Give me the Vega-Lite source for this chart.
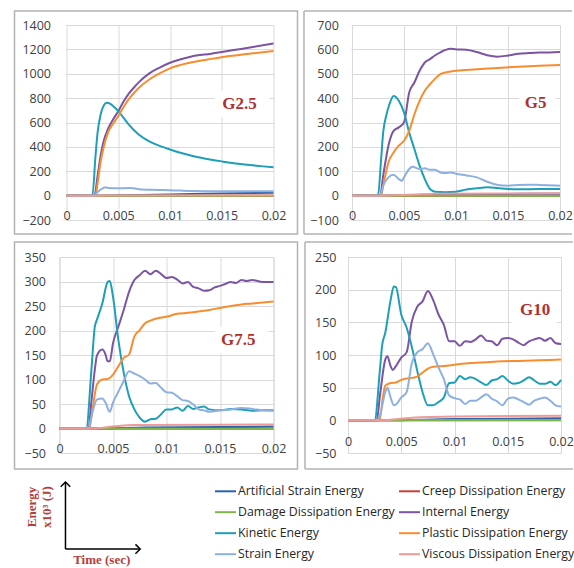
{
"$schema": "https://vega.github.io/schema/vega-lite/v6.json",
"background": "white",
"padding": {"left": 12.5, "top": 10, "right": 0, "bottom": 0},
"config": {
 "font": "Open Sans",
 "view": {"stroke": "#d9d9d9"},
 "axis": {"labelFont": "Open Sans", "labelFontSize": 12.5, "labelColor": "#404040", "gridColor": "#d9d9d9", "gridWidth": 1, "domain": false, "ticks": false, "tickSize": 0, "labelFlush": false, "labelOverlap": false, "tickCount": 12, "title": null}
},
"datasets": {
 "g25": [
  {"s": "Artificial Strain Energy", "t": [0, 0.003, 0.006, 0.01, 0.015, 0.02], "e": [0, 0, 4, 10, 18, 24]},
  {"s": "Creep Dissipation Energy", "t": [0, 0.02], "e": [0, 0]},
  {"s": "Damage Dissipation Energy", "t": [0, 0.02], "e": [0, 0]},
  {"s": "Internal Energy", "t": [0, 0.0027, 0.003, 0.0033, 0.0036, 0.004, 0.0045, 0.005, 0.0055, 0.006, 0.0065, 0.007, 0.008, 0.009, 0.01, 0.012, 0.014, 0.015, 0.016, 0.018, 0.02], "e": [0, 0, 160, 330, 450, 545, 625, 693, 770, 835, 885, 931, 1003, 1050, 1090, 1140, 1165, 1178, 1192, 1219, 1249]},
  {"s": "Kinetic Energy", "t": [0, 0.0025, 0.0028, 0.003, 0.0033, 0.0036, 0.0039, 0.0042, 0.0045, 0.005, 0.0055, 0.006, 0.007, 0.008, 0.009, 0.01, 0.011, 0.012, 0.013, 0.014, 0.015, 0.016, 0.017, 0.018, 0.019, 0.02], "e": [0, 0, 323, 515, 666, 740, 762, 755, 735, 693, 640, 585, 500, 446, 408, 378, 352, 330, 311, 295, 281, 268, 258, 249, 240, 232]},
  {"s": "Plastic Dissipation Energy", "t": [0, 0.0028, 0.003, 0.0033, 0.0036, 0.004, 0.0045, 0.005, 0.0055, 0.006, 0.0065, 0.007, 0.008, 0.009, 0.01, 0.012, 0.014, 0.016, 0.018, 0.02], "e": [0, 0, 100, 280, 400, 515, 590, 652, 725, 789, 840, 885, 953, 1003, 1044, 1092, 1122, 1148, 1168, 1186]},
  {"s": "Strain Energy", "t": [0, 0.0027, 0.003, 0.0035, 0.0038, 0.004, 0.005, 0.006, 0.0065, 0.007, 0.008, 0.01, 0.012, 0.015, 0.018, 0.02], "e": [0, 0, 30, 60, 68, 63, 60, 62, 60, 52, 48, 45, 38, 35, 35, 36]},
  {"s": "Viscous Dissipation Energy", "t": [0, 0.003, 0.005, 0.02], "e": [0, 0, 2, 3]}
 ],
 "g5": [
  {"s": "Artificial Strain Energy", "t": [0, 0.003, 0.006, 0.01, 0.02], "e": [0, 0, 3, 5, 8]},
  {"s": "Creep Dissipation Energy", "t": [0, 0.02], "e": [0, 0]},
  {"s": "Damage Dissipation Energy", "t": [0, 0.005, 0.02], "e": [0, -1, -2]},
  {"s": "Internal Energy", "t": [0, 0.0027, 0.003, 0.0035, 0.004, 0.0045, 0.005, 0.0055, 0.006, 0.0065, 0.007, 0.0075, 0.008, 0.0085, 0.009, 0.0095, 0.01, 0.011, 0.012, 0.013, 0.014, 0.015, 0.016, 0.017, 0.018, 0.019, 0.02], "e": [0, 0, 82, 205, 266, 280, 300, 423, 464, 512, 546, 560, 576, 588, 598, 603, 600, 598, 589, 576, 570, 575, 582, 585, 587, 587, 589]},
  {"s": "Kinetic Energy", "t": [0, 0.0025, 0.0028, 0.003, 0.0033, 0.0036, 0.004, 0.0045, 0.005, 0.0055, 0.006, 0.0065, 0.007, 0.0075, 0.008, 0.009, 0.01, 0.011, 0.012, 0.013, 0.014, 0.015, 0.016, 0.018, 0.02], "e": [0, 0, 150, 260, 330, 375, 409, 389, 341, 259, 191, 123, 68, 27, 16, 14, 16, 25, 30, 34, 31, 27, 26, 27, 27]},
  {"s": "Plastic Dissipation Energy", "t": [0, 0.0028, 0.003, 0.0035, 0.004, 0.0045, 0.005, 0.0055, 0.006, 0.0065, 0.007, 0.0075, 0.008, 0.0085, 0.009, 0.01, 0.012, 0.014, 0.016, 0.018, 0.02], "e": [0, 0, 41, 136, 177, 205, 225, 266, 334, 389, 430, 457, 480, 498, 505, 512, 518, 524, 529, 533, 536]},
  {"s": "Strain Energy", "t": [0, 0.0027, 0.003, 0.0035, 0.004, 0.0045, 0.0048, 0.005, 0.0055, 0.0058, 0.0065, 0.007, 0.0075, 0.008, 0.0085, 0.009, 0.0095, 0.01, 0.011, 0.012, 0.013, 0.014, 0.015, 0.016, 0.017, 0.018, 0.02], "e": [0, 0, 41, 75, 86, 68, 61, 75, 109, 118, 109, 112, 106, 106, 95, 93, 95, 90, 83, 75, 57, 44, 41, 44, 45, 44, 41]},
  {"s": "Viscous Dissipation Energy", "t": [0, 0.003, 0.006, 0.008, 0.02], "e": [0, 0, 5, 8, 10]}
 ],
 "g75": [
  {"s": "Artificial Strain Energy", "t": [0, 0.003, 0.008, 0.02], "e": [0, 0, 2, 4]},
  {"s": "Creep Dissipation Energy", "t": [0, 0.02], "e": [0, 0]},
  {"s": "Damage Dissipation Energy", "t": [0, 0.02], "e": [0, -1]},
  {"s": "Internal Energy", "t": [0, 0.0027, 0.003, 0.0033, 0.0035, 0.004, 0.0043, 0.0045, 0.0047, 0.005, 0.0055, 0.006, 0.0065, 0.007, 0.0075, 0.008, 0.0085, 0.009, 0.0095, 0.01, 0.0105, 0.011, 0.0115, 0.012, 0.0125, 0.013, 0.0135, 0.014, 0.0145, 0.015, 0.0155, 0.016, 0.0165, 0.017, 0.0175, 0.018, 0.019, 0.02], "e": [0, 0, 59, 120, 149, 161, 151, 137, 137, 174, 208, 242, 279, 303, 313, 322, 315, 322, 315, 307, 309, 304, 296, 299, 289, 286, 281, 282, 288, 291, 295, 299, 297, 303, 301, 303, 299, 299]},
  {"s": "Kinetic Energy", "t": [0, 0.0025, 0.003, 0.0033, 0.0035, 0.004, 0.0045, 0.0047, 0.005, 0.0055, 0.006, 0.0065, 0.007, 0.0075, 0.008, 0.0085, 0.009, 0.0095, 0.01, 0.0105, 0.011, 0.0115, 0.012, 0.0125, 0.013, 0.0135, 0.014, 0.015, 0.016, 0.017, 0.018, 0.019, 0.02], "e": [0, 0, 125, 208, 222, 255, 299, 301, 269, 181, 114, 66, 39, 22, 14, 19, 20, 29, 39, 39, 43, 36, 46, 40, 43, 45, 39, 37, 40, 39, 36, 37, 37]},
  {"s": "Plastic Dissipation Energy", "t": [0, 0.0028, 0.003, 0.0035, 0.004, 0.0045, 0.005, 0.0055, 0.006, 0.0065, 0.007, 0.0075, 0.008, 0.0085, 0.009, 0.01, 0.011, 0.012, 0.013, 0.014, 0.015, 0.016, 0.017, 0.018, 0.019, 0.02], "e": [0, 0, 26, 90, 100, 101, 110, 127, 144, 151, 188, 201, 215, 220, 224, 228, 234, 236, 239, 242, 246, 250, 253, 255, 257, 259]},
  {"s": "Strain Energy", "t": [0, 0.0027, 0.003, 0.0035, 0.004, 0.0043, 0.0047, 0.005, 0.0055, 0.006, 0.0065, 0.007, 0.0075, 0.008, 0.0085, 0.009, 0.0095, 0.01, 0.0105, 0.011, 0.0115, 0.012, 0.0125, 0.013, 0.0135, 0.014, 0.015, 0.016, 0.017, 0.018, 0.019, 0.02], "e": [0, 0, 26, 59, 61, 53, 34, 53, 75, 97, 117, 112, 107, 100, 92, 93, 83, 74, 73, 66, 58, 56, 49, 39, 37, 34, 37, 39, 42, 40, 37, 36]},
  {"s": "Viscous Dissipation Energy", "t": [0, 0.003, 0.005, 0.007, 0.02], "e": [0, 0, 4, 7, 8]}
 ],
 "g10": [
  {"s": "Artificial Strain Energy", "t": [0, 0.003, 0.01, 0.02], "e": [0, 0, 2, 3]},
  {"s": "Creep Dissipation Energy", "t": [0, 0.02], "e": [0, 0]},
  {"s": "Damage Dissipation Energy", "t": [0, 0.02], "e": [0, 0.5]},
  {"s": "Internal Energy", "t": [0, 0.0027, 0.003, 0.0035, 0.0037, 0.004, 0.0042, 0.0045, 0.005, 0.0055, 0.006, 0.0065, 0.007, 0.0075, 0.008, 0.0085, 0.009, 0.0095, 0.01, 0.0105, 0.011, 0.0115, 0.012, 0.0125, 0.013, 0.0135, 0.014, 0.0145, 0.015, 0.0155, 0.016, 0.0165, 0.017, 0.0175, 0.018, 0.0185, 0.019, 0.0195, 0.02], "e": [0, 0, 38, 93, 98, 83, 77, 83, 96, 104, 152, 174, 182, 198, 184, 162, 146, 121, 121, 114, 121, 120, 124, 130, 122, 121, 115, 125, 126, 124, 119, 115, 121, 124, 126, 122, 126, 118, 117]},
  {"s": "Kinetic Energy", "t": [0, 0.0025, 0.003, 0.0032, 0.0035, 0.004, 0.0043, 0.0045, 0.005, 0.0055, 0.006, 0.0065, 0.007, 0.0075, 0.008, 0.0085, 0.009, 0.0095, 0.01, 0.0105, 0.011, 0.0115, 0.012, 0.0125, 0.013, 0.0135, 0.014, 0.0145, 0.015, 0.0155, 0.016, 0.0165, 0.017, 0.0175, 0.018, 0.0185, 0.019, 0.0195, 0.02], "e": [0, 0, 78, 114, 134, 184, 205, 204, 162, 142, 112, 76, 43, 23, 23, 28, 35, 57, 58, 68, 63, 66, 63, 58, 54, 61, 63, 68, 61, 56, 57, 61, 66, 61, 56, 56, 59, 54, 62]},
  {"s": "Plastic Dissipation Energy", "t": [0, 0.0029, 0.003, 0.0033, 0.0035, 0.004, 0.0045, 0.005, 0.0055, 0.006, 0.0065, 0.007, 0.0075, 0.008, 0.009, 0.01, 0.011, 0.012, 0.013, 0.014, 0.016, 0.018, 0.02], "e": [0, 0, 3, 38, 53, 57, 58, 62, 64, 65, 67, 73, 79, 82, 83, 85, 87, 88, 89, 90, 91, 92, 93]},
  {"s": "Strain Energy", "t": [0, 0.0027, 0.003, 0.0035, 0.0037, 0.004, 0.0043, 0.0045, 0.005, 0.0055, 0.006, 0.0065, 0.007, 0.0075, 0.008, 0.0085, 0.009, 0.0095, 0.01, 0.0105, 0.011, 0.0115, 0.012, 0.0125, 0.013, 0.0135, 0.014, 0.0145, 0.015, 0.0155, 0.016, 0.0165, 0.017, 0.0175, 0.018, 0.0185, 0.019, 0.0195, 0.02], "e": [0, 0, 8, 43, 50, 35, 23, 24, 35, 43, 88, 104, 109, 118, 101, 81, 63, 38, 34, 32, 25, 30, 30, 35, 40, 33, 29, 23, 33, 35, 32, 28, 24, 30, 33, 35, 30, 23, 21]},
  {"s": "Viscous Dissipation Energy", "t": [0, 0.003, 0.006, 0.01, 0.02], "e": [0, 0, 4, 6, 7]}
 ]
},
"resolve": {"scale": {"color": "shared"}, "legend": {"color": "shared"}},
"columns": 2,
"align": "none",
"spacing": {"row": 5, "column": 3.5},
"concat": [
 {
  "width": 214, "height": 195,
  "view": {"stroke": null},
  "layer": [
   {"data": {"name": "g25"}, "transform": [{"flatten": ["t", "e"]}],
    "mark": {"type": "line", "strokeWidth": 2, "interpolate": "monotone"},
    "encoding": {
     "x": {"field": "t", "type": "quantitative", "scale": {"domain": [-0.00067633, 0.02], "nice": false, "zero": false}, "axis": {"values": [0, 0.005, 0.01, 0.015, 0.02], "tickCount": 12, "format": "~g", "labelPadding": -11, "labelOverlap": false, "title": null, "grid": true}},
     "y": {"field": "e", "type": "quantitative", "scale": {"domain": [-200, 1400], "nice": false, "zero": false}, "axis": {"values": [-200, 0, 200, 400, 600, 800, 1000, 1200, 1400], "tickCount": 12, "format": "d", "labelPadding": 9, "labelOverlap": false, "title": null, "grid": true}},
     "color": {"field": "s", "type": "nominal",
      "scale": {"domain": ["Artificial Strain Energy", "Creep Dissipation Energy", "Damage Dissipation Energy", "Internal Energy", "Kinetic Energy", "Plastic Dissipation Energy", "Strain Energy", "Viscous Dissipation Energy"], "range": ["#2B64AE", "#C8403A", "#7FB548", "#7B54A3", "#1E9FB8", "#F98C2E", "#8CB0E0", "#EE9A98"]},
      "legend": {"title": null, "orient": "none", "legendX": 154.5, "legendY": 454.7, "columns": 2, "direction": "horizontal", "symbolType": "stroke", "symbolSize": 441, "symbolStrokeWidth": 2, "labelFont": "Open Sans", "labelFontSize": 12.3, "labelColor": "#262626", "labelOffset": 1, "columnPadding": 0, "rowPadding": 3, "labelLimit": 300, "padding": 0}}
    }},
   {"data": {"values": [{}]}, "mark": {"type": "rect", "color": "white"},
    "encoding": {"x": {"datum": -0.00067633, "type": "quantitative"}, "x2": {"datum": -0.00005}, "y": {"datum": -105, "type": "quantitative"}, "y2": {"datum": 1410}}},
   {"data": {"values": [{}]}, "mark": {"type": "rect", "color": "white"},
    "encoding": {"x": {"datum": -0.00067633, "type": "quantitative"}, "x2": {"datum": -0.00005}, "y": {"datum": -206, "type": "quantitative"}, "y2": {"datum": -194}}},
   {"data": {"values": [{}]}, "mark": {"type": "rect", "filled": false, "color": "#b3b3b3", "strokeWidth": 1.5},
    "encoding": {"x": {"datum": -0.0050242, "type": "quantitative"}, "x2": {"datum": 0.0223188}, "y": {"datum": 1514.87, "type": "quantitative"}, "y2": {"datum": -314.87}}},
   {"data": {"values": [{}]}, "mark": {"type": "rect", "color": "white"},
    "encoding": {"x": {"datum": 0.0143, "type": "quantitative"}, "x2": {"datum": 0.01961}, "y": {"datum": 645, "type": "quantitative"}, "y2": {"datum": 858}}},
   {"data": {"values": [{}]}, "mark": {"type": "text", "text": "G2.5", "font": "Liberation Serif", "fontWeight": "bold", "fontSize": 17, "color": "#B0302E", "align": "center", "baseline": "middle"},
    "encoding": {"x": {"datum": 0.01672, "type": "quantitative"}, "y": {"datum": 752, "type": "quantitative"}}}
  ]
 },
 {
  "width": 213, "height": 195,
  "view": {"stroke": null},
  "layer": [
   {"data": {"name": "g5"}, "transform": [{"flatten": ["t", "e"]}],
    "mark": {"type": "line", "strokeWidth": 2, "interpolate": "monotone"},
    "encoding": {
     "x": {"field": "t", "type": "quantitative", "scale": {"domain": [-0.00048077, 0.02], "nice": false, "zero": false}, "axis": {"values": [0, 0.005, 0.01, 0.015, 0.02], "tickCount": 12, "format": "~g", "labelPadding": -10.5, "labelOverlap": false, "title": null, "grid": true}},
     "y": {"field": "e", "type": "quantitative", "scale": {"domain": [-100, 700], "nice": false, "zero": false}, "axis": {"values": [-100, 0, 100, 200, 300, 400, 500, 600, 700], "tickCount": 12, "format": "d", "labelPadding": 8.7, "labelOverlap": false, "title": null, "grid": true}},
     "color": {"field": "s", "type": "nominal",
      "scale": {"domain": ["Artificial Strain Energy", "Creep Dissipation Energy", "Damage Dissipation Energy", "Internal Energy", "Kinetic Energy", "Plastic Dissipation Energy", "Strain Energy", "Viscous Dissipation Energy"], "range": ["#2B64AE", "#C8403A", "#7FB548", "#7B54A3", "#1E9FB8", "#F98C2E", "#8CB0E0", "#EE9A98"]},
      "legend": {"title": null, "orient": "none", "legendX": 154.5, "legendY": 454.7, "columns": 2, "direction": "horizontal", "symbolType": "stroke", "symbolSize": 441, "symbolStrokeWidth": 2, "labelFont": "Open Sans", "labelFontSize": 12.3, "labelColor": "#262626", "labelOffset": 1, "columnPadding": 0, "rowPadding": 3, "labelLimit": 300, "padding": 0}}
    }},
   {"data": {"values": [{}]}, "mark": {"type": "rect", "color": "white"},
    "encoding": {"x": {"datum": -0.00048077, "type": "quantitative"}, "x2": {"datum": -0.000048}, "y": {"datum": -50, "type": "quantitative"}, "y2": {"datum": 705}}},
   {"data": {"values": [{}]}, "mark": {"type": "rect", "color": "white"},
    "encoding": {"x": {"datum": -0.00048077, "type": "quantitative"}, "x2": {"datum": -0.000048}, "y": {"datum": -103, "type": "quantitative"}, "y2": {"datum": -97}}},
   {"data": {"values": [{}]}, "mark": {"type": "rule", "color": "#b3b3b3", "strokeWidth": 1.5},
    "encoding": {"x": {"datum": -0.0046154, "type": "quantitative"}, "x2": {"datum": 0.0211538}, "y": {"datum": 757.44, "type": "quantitative"}}},
   {"data": {"values": [{}]}, "mark": {"type": "rule", "color": "#b3b3b3", "strokeWidth": 1.5},
    "encoding": {"x": {"datum": -0.0046154, "type": "quantitative"}, "x2": {"datum": 0.0211538}, "y": {"datum": -157.44, "type": "quantitative"}}},
   {"data": {"values": [{}]}, "mark": {"type": "rule", "color": "#b3b3b3", "strokeWidth": 1.5},
    "encoding": {"x": {"datum": -0.0046154, "type": "quantitative"}, "y": {"datum": 757.44, "type": "quantitative"}, "y2": {"datum": -157.44}}},
   {"data": {"values": [{}]}, "mark": {"type": "rect", "color": "white"},
    "encoding": {"x": {"datum": 0.01606, "type": "quantitative"}, "x2": {"datum": 0.01962}, "y": {"datum": 327, "type": "quantitative"}, "y2": {"datum": 433}}},
   {"data": {"values": [{}]}, "mark": {"type": "text", "text": "G5", "font": "Liberation Serif", "fontWeight": "bold", "fontSize": 17, "color": "#B0302E", "align": "center", "baseline": "middle"},
    "encoding": {"x": {"datum": 0.01766, "type": "quantitative"}, "y": {"datum": 379, "type": "quantitative"}}}
  ]
 },
 {
  "width": 214, "height": 196,
  "layer": [
   {"data": {"name": "g75"}, "transform": [{"flatten": ["t", "e"]}],
    "mark": {"type": "line", "strokeWidth": 2, "interpolate": "monotone"},
    "encoding": {
     "x": {"field": "t", "type": "quantitative", "scale": {"domain": [0, 0.02], "nice": false, "zero": false}, "axis": {"values": [0, 0.005, 0.01, 0.015, 0.02], "tickCount": 12, "format": "~g", "labelPadding": -10.5, "labelOverlap": false, "title": null, "grid": true}},
     "y": {"field": "e", "type": "quantitative", "scale": {"domain": [-50, 350], "nice": false, "zero": false}, "axis": {"values": [-50, 0, 50, 100, 150, 200, 250, 300, 350], "tickCount": 12, "format": "d", "labelPadding": 14, "labelOverlap": false, "title": null, "grid": true}},
     "color": {"field": "s", "type": "nominal",
      "scale": {"domain": ["Artificial Strain Energy", "Creep Dissipation Energy", "Damage Dissipation Energy", "Internal Energy", "Kinetic Energy", "Plastic Dissipation Energy", "Strain Energy", "Viscous Dissipation Energy"], "range": ["#2B64AE", "#C8403A", "#7FB548", "#7B54A3", "#1E9FB8", "#F98C2E", "#8CB0E0", "#EE9A98"]},
      "legend": {"title": null, "orient": "none", "legendX": 154.5, "legendY": 454.7, "columns": 2, "direction": "horizontal", "symbolType": "stroke", "symbolSize": 441, "symbolStrokeWidth": 2, "labelFont": "Open Sans", "labelFontSize": 12.3, "labelColor": "#262626", "labelOffset": 1, "columnPadding": 0, "rowPadding": 3, "labelLimit": 300, "padding": 0}}
    }},
   {"data": {"values": [{}]}, "mark": {"type": "rect", "filled": false, "color": "#b3b3b3", "strokeWidth": 1.5},
    "encoding": {"x": {"datum": -0.0042056, "type": "quantitative"}, "x2": {"datum": 0.022243}, "y": {"datum": 380.61, "type": "quantitative"}, "y2": {"datum": -82.65}}},
   {"data": {"values": [{}]}, "mark": {"type": "rect", "color": "white"},
    "encoding": {"x": {"datum": 0.01449, "type": "quantitative"}, "x2": {"datum": 0.01953}, "y": {"datum": 154, "type": "quantitative"}, "y2": {"datum": 207}}},
   {"data": {"values": [{}]}, "mark": {"type": "text", "text": "G7.5", "font": "Liberation Serif", "fontWeight": "bold", "fontSize": 17, "color": "#B0302E", "align": "center", "baseline": "middle"},
    "encoding": {"x": {"datum": 0.0167, "type": "quantitative"}, "y": {"datum": 181, "type": "quantitative"}}}
  ]
 },
 {
  "width": 213, "height": 196,
  "layer": [
   {"data": {"name": "g10"}, "transform": [{"flatten": ["t", "e"]}],
    "mark": {"type": "line", "strokeWidth": 2, "interpolate": "monotone"},
    "encoding": {
     "x": {"field": "t", "type": "quantitative", "scale": {"domain": [0, 0.02], "nice": false, "zero": false}, "axis": {"values": [0, 0.005, 0.01, 0.015, 0.02], "tickCount": 12, "format": "~g", "labelPadding": -18, "labelOverlap": false, "title": null, "grid": true}},
     "y": {"field": "e", "type": "quantitative", "scale": {"domain": [-50, 250], "nice": false, "zero": false}, "axis": {"values": [-50, 0, 50, 100, 150, 200, 250], "tickCount": 12, "format": "d", "labelPadding": 12, "labelOverlap": false, "title": null, "grid": true}},
     "color": {"field": "s", "type": "nominal",
      "scale": {"domain": ["Artificial Strain Energy", "Creep Dissipation Energy", "Damage Dissipation Energy", "Internal Energy", "Kinetic Energy", "Plastic Dissipation Energy", "Strain Energy", "Viscous Dissipation Energy"], "range": ["#2B64AE", "#C8403A", "#7FB548", "#7B54A3", "#1E9FB8", "#F98C2E", "#8CB0E0", "#EE9A98"]},
      "legend": {"title": null, "orient": "none", "legendX": 154.5, "legendY": 454.7, "columns": 2, "direction": "horizontal", "symbolType": "stroke", "symbolSize": 441, "symbolStrokeWidth": 2, "labelFont": "Open Sans", "labelFontSize": 12.3, "labelColor": "#262626", "labelOffset": 1, "columnPadding": 0, "rowPadding": 3, "labelLimit": 300, "padding": 0}}
    }},
   {"data": {"values": [{}]}, "mark": {"type": "rule", "color": "#b3b3b3", "strokeWidth": 1.5},
    "encoding": {"x": {"datum": -0.0040376, "type": "quantitative"}, "x2": {"datum": 0.0211268}, "y": {"datum": 272.96, "type": "quantitative"}}},
   {"data": {"values": [{}]}, "mark": {"type": "rule", "color": "#b3b3b3", "strokeWidth": 1.5},
    "encoding": {"x": {"datum": -0.0040376, "type": "quantitative"}, "x2": {"datum": 0.0211268}, "y": {"datum": -74.49, "type": "quantitative"}}},
   {"data": {"values": [{}]}, "mark": {"type": "rule", "color": "#b3b3b3", "strokeWidth": 1.5},
    "encoding": {"x": {"datum": -0.0040376, "type": "quantitative"}, "y": {"datum": 272.96, "type": "quantitative"}, "y2": {"datum": -74.49}}},
   {"data": {"values": [{}]}, "mark": {"type": "rect", "color": "white"},
    "encoding": {"x": {"datum": 0.01537, "type": "quantitative"}, "x2": {"datum": 0.0196}, "y": {"datum": 144.4, "type": "quantitative"}, "y2": {"datum": 190.3}}},
   {"data": {"values": [{}]}, "mark": {"type": "text", "text": "G10", "font": "Liberation Serif", "fontWeight": "bold", "fontSize": 17, "color": "#B0302E", "align": "center", "baseline": "middle"},
    "encoding": {"x": {"datum": 0.01756, "type": "quantitative"}, "y": {"datum": 169, "type": "quantitative"}}}
  ]
 },
 {
  "width": 80.7, "height": 86.5,
  "view": {"stroke": null},
  "data": {"values": [{}]},
  "layer": [
   {"mark": {"type": "rule", "color": "black", "strokeWidth": 1.5},
    "encoding": {"x": {"datum": 0, "type": "quantitative", "scale": {"domain": [-0.08, 1], "nice": false, "zero": false}, "axis": null}, "y": {"datum": 0, "type": "quantitative", "scale": {"domain": [-0.2, 1.09], "nice": false, "zero": false}, "axis": null}, "y2": {"datum": 1}}},
   {"mark": {"type": "rule", "color": "black", "strokeWidth": 1.5},
    "encoding": {"x": {"datum": 0, "type": "quantitative", "axis": null}, "x2": {"datum": 1}, "y": {"datum": 0, "type": "quantitative", "axis": null}}},
   {"mark": {"type": "point", "shape": "M-1,1L0,0L1,1", "size": 90, "filled": false, "color": "black", "strokeWidth": 1.5, "opacity": 1},
    "encoding": {"x": {"datum": 0, "type": "quantitative", "axis": null}, "y": {"datum": 1, "type": "quantitative", "axis": null}}},
   {"mark": {"type": "point", "shape": "M-1,-1L0,0L-1,1", "size": 90, "filled": false, "color": "black", "strokeWidth": 1.5, "opacity": 1},
    "encoding": {"x": {"datum": 1, "type": "quantitative", "axis": null}, "y": {"datum": 0, "type": "quantitative", "axis": null}}},
   {"mark": {"type": "text", "text": "Time (sec)", "font": "Liberation Serif", "fontWeight": "bold", "fontSize": 13, "color": "#B53D3A", "align": "center", "baseline": "middle"},
    "encoding": {"x": {"datum": 0.485, "type": "quantitative", "axis": null}, "y": {"datum": -0.164, "type": "quantitative", "axis": null}}},
   {"mark": {"type": "text", "text": "Energy", "angle": 270, "font": "Liberation Serif", "fontWeight": "bold", "fontSize": 13, "color": "#B53D3A", "align": "center", "baseline": "middle"},
    "encoding": {"x": {"datum": -0.452, "type": "quantitative", "axis": null}, "y": {"datum": 0.627, "type": "quantitative", "axis": null}}},
   {"mark": {"type": "text", "text": "x10³ (J)", "angle": 270, "font": "Liberation Serif", "fontWeight": "bold", "fontSize": 13, "color": "#B53D3A", "align": "center", "baseline": "middle"},
    "encoding": {"x": {"datum": -0.252, "type": "quantitative", "axis": null}, "y": {"datum": 0.627, "type": "quantitative", "axis": null}}}
  ]
 }
]
}
